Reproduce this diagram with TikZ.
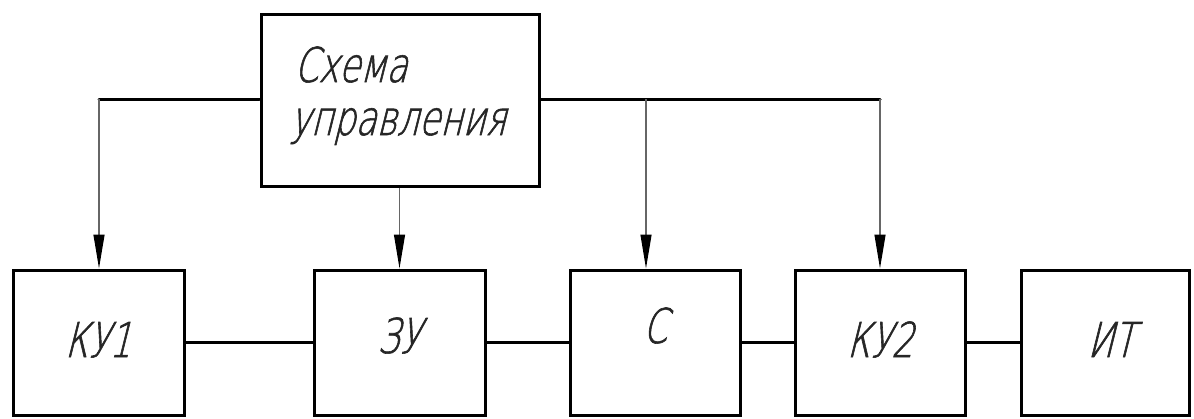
\documentclass[tikz,border=0pt]{standalone}
\usepackage{fontspec}
\usetikzlibrary{arrows.meta,calc}
\newfontfamily\gost{DejaVu Sans ExtraLight}[FakeStretch=0.72,FakeSlant=0.25,FakeBold=1.2]
\begin{document}
\begin{tikzpicture}[x=1pt,y=-1pt,
  blk/.style={draw=black,line width=3pt,rectangle,inner sep=0pt,fill=none},
  lbl/.style={anchor=base,inner sep=0pt,text=black!85,font=\gost\fontsize{48}{56}\selectfont},
  bus/.style={line width=3pt,line cap=round},
  arr/.style={line width=1.2pt,draw=black!60,-{Triangle[length=34pt,width=11pt,color=black]}},
  link/.style={line width=3pt}]
\useasboundingbox (0,0) rectangle (1194,418);
% blocks
\node[blk,minimum width=278pt,minimum height=172pt] (top) at (400,100) {};
\node[blk,minimum width=171pt,minimum height=145pt] (ku1) at (98.5,342.5) {};
\node[blk,minimum width=171pt,minimum height=145pt] (zu)  at (399.5,342.5) {};
\node[blk,minimum width=170pt,minimum height=145pt] (c)   at (655,342.5) {};
\node[blk,minimum width=170pt,minimum height=145pt] (ku2) at (880,342.5) {};
\node[blk,minimum width=168pt,minimum height=145pt] (it)  at (1105,342.5) {};
% labels
\node[lbl,anchor=base west] (t1) at (294,82) {Схема};
\node[lbl,anchor=base west] (t2) at (290,135) {управления};
\node[lbl] (l1) at (98,357) {КУ1};
\node[lbl] (l2) at (399,353) {ЗУ};
\node[lbl] (l3) at (655,343) {С};
\node[lbl] (l4) at (880,357) {КУ2};
\node[lbl] (l5) at (1111,357) {ИТ};
% bus
\coordinate (b1) at (99,99);
\coordinate (b3) at (646,99);
\coordinate (b4) at (880,99);
\draw[bus] (b1) -- (top.west |- b1);
\draw[bus] (top.east |- b4) -- (b4);
% arrows
\draw[arr] (b1) -- (ku1.north -| b1);
\draw[arr] (top.south -| zu.north) -- (zu.north);
\draw[arr] (b3) -- (c.north -| b3);
\draw[arr] (b4) -- (ku2.north -| b4);
% links
\draw[link] (ku1.east) -- (zu.west);
\draw[link] (zu.east) -- (c.west);
\draw[link] (c.east) -- (ku2.west);
\draw[link] (ku2.east) -- (it.west);
\end{tikzpicture}
\end{document}
